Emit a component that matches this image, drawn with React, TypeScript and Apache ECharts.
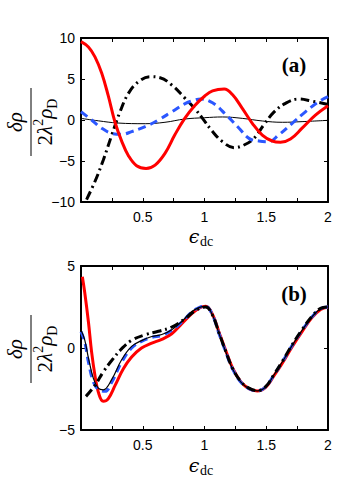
import React, { useEffect, useRef } from "react";
import * as echarts from "echarts";

// ---------- Panel (a) data ----------
const aRedX = [0, 0.06, 0.113, 0.168, 0.22, 0.276, 0.33, 0.384, 0.45, 0.527, 0.6, 0.68, 0.76, 0.84, 0.92, 1.0, 1.065, 1.16, 1.226, 1.306, 1.387, 1.468, 1.548, 1.615, 1.696, 1.79, 1.898, 2.0];
const aRedY = [9.55, 8.9, 7.7, 5.7, 3.0, -0.3, -2.6, -4.35, -5.57, -5.9, -5.5, -4.07, -1.8, 0.2, 1.75, 2.9, 3.55, 3.78, 3.1, 1.42, -0.4, -1.83, -2.56, -2.72, -2.32, -1.0, 0.6, 1.75];

const aDashDotX = [0.045, 0.113, 0.18, 0.25, 0.316, 0.384, 0.465, 0.56, 0.64, 0.735, 0.843, 0.924, 0.984, 1.065, 1.145, 1.24, 1.32, 1.4, 1.48, 1.56, 1.656, 1.763, 1.87, 2.0];
const aDashDotY = [-9.7, -7.5, -4.9, -1.8, 1.0, 3.25, 4.67, 5.28, 5.16, 4.27, 2.64, 1.34, 0.2, -1.4, -2.64, -3.37, -3.05, -2.24, -0.6, 0.93, 2.03, 2.56, 2.3, 1.9];

const aBlueX = [0, 0.086, 0.168, 0.25, 0.33, 0.41, 0.52, 0.627, 0.735, 0.843, 0.924, 0.97, 1.065, 1.17, 1.28, 1.36, 1.44, 1.52, 1.6, 1.71, 1.817, 1.925, 2.0];
const aBlueY = [1.0, 0.0, -1.0, -1.63, -1.75, -1.42, -0.8, 0.0, 1.0, 2.0, 2.44, 2.55, 2.1, 0.7, -1.0, -2.24, -2.56, -2.64, -1.83, -0.4, 1.0, 2.24, 2.85];

const aThinX = [0, 0.14, 0.3, 0.52, 0.68, 0.84, 1.0, 1.145, 1.306, 1.468, 1.63, 1.79, 2.0];
const aThinY = [0.2, -0.1, -0.37, -0.45, -0.28, 0.12, 0.28, 0.37, 0.2, -0.12, -0.28, -0.2, -0.04];

// ---------- Panel (b) data ----------
const bRedX = [0.011, 0.03, 0.06, 0.086, 0.113, 0.14, 0.18, 0.22, 0.276, 0.343, 0.41, 0.49, 0.573, 0.654, 0.735, 0.816, 0.897, 0.96, 1.01, 1.065, 1.118, 1.172, 1.226, 1.293, 1.36, 1.427, 1.495, 1.56, 1.63, 1.71, 1.79, 1.87, 1.94, 2.0];
const bRedY = [4.35, 3.4, 1.6, -0.25, -1.67, -2.68, -3.25, -3.1, -2.28, -1.26, -0.55, 0.0, 0.3, 0.53, 0.87, 1.48, 2.09, 2.45, 2.55, 2.05, 0.95, -0.15, -1.2, -2.05, -2.48, -2.62, -2.4, -1.72, -0.92, 0.08, 1.0, 1.85, 2.35, 2.5];

const bBlueX = [0.0, 0.03, 0.06, 0.1, 0.14, 0.195, 0.25, 0.33, 0.41, 0.49, 0.573, 0.654, 0.735, 0.816, 0.897, 0.96, 1.01, 1.065, 1.118, 1.172, 1.226, 1.293, 1.36, 1.427, 1.495, 1.56, 1.63, 1.71, 1.79, 1.87, 1.94, 2.0];
const bBlueY = [1.0, 0.37, -0.85, -2.07, -2.52, -2.64, -2.07, -0.85, 0.0, 0.4, 0.65, 0.77, 1.08, 1.58, 2.2, 2.48, 2.54, 2.0, 0.87, -0.24, -1.26, -2.07, -2.48, -2.62, -2.38, -1.67, -0.85, 0.16, 1.08, 1.89, 2.4, 2.5];

const bThinX = [0.0, 0.03, 0.06, 0.1, 0.14, 0.18, 0.25, 0.33, 0.41, 0.49, 0.573, 0.654, 0.735, 0.816, 0.897, 0.96, 1.01, 1.065, 1.118, 1.172, 1.226, 1.293, 1.36, 1.427, 1.495, 1.56, 1.63, 1.71, 1.79, 1.87, 1.94, 2.0];
const bThinY = [1.1, 0.5, -0.6, -1.85, -2.45, -2.55, -1.9, -0.7, 0.1, 0.45, 0.7, 0.82, 1.12, 1.62, 2.22, 2.48, 2.54, 2.0, 0.87, -0.24, -1.26, -2.07, -2.48, -2.62, -2.38, -1.67, -0.85, 0.16, 1.08, 1.89, 2.4, 2.5];

const bDashDotX = [0.04, 0.113, 0.18, 0.25, 0.33, 0.41, 0.52, 0.627, 0.735, 0.843, 0.93, 1.01, 1.065, 1.118, 1.172, 1.226, 1.293, 1.36, 1.427, 1.495, 1.56, 1.63, 1.71, 1.79, 1.87, 1.94, 2.0];
const bDashDotY = [-2.95, -2.28, -1.46, -0.75, -0.04, 0.47, 0.81, 1.02, 1.28, 1.79, 2.3, 2.5, 2.0, 0.9, -0.2, -1.22, -2.03, -2.45, -2.6, -2.36, -1.65, -0.82, 0.2, 1.12, 1.93, 2.42, 2.5];

// ---------- Axis ticks ----------
const xTickLabels = ["0.5", "1", "1.5", "2"];
const aYTicks = [-10, -5, 0, 5, 10];
const bYTicks = [-5, 0, 5];

const zip = (xs: number[], ys: number[]) => xs.map((x, i) => [x, ys[i]]);

const RED = "#ff0000";
const BLUE = "#2b57ff";
const BLACK = "#000000";

export default function App() {
  const ref = useRef<HTMLDivElement>(null);

  useEffect(() => {
    if (!ref.current) return;
    const chart = echarts.init(ref.current, undefined, { renderer: "svg" });

    const gridTop = [38, 266];
    const gridLeft = 81;
    const gridW = 247;
    const gridH = 164;

    const xLabelFmt = (v: number) => {
      const s = String(Math.round(v * 100) / 100);
      return xTickLabels.includes(s) ? s : "";
    };

    const mkX = (gi: number, pos: "bottom" | "top") => ({
      type: "value",
      gridIndex: gi,
      position: pos,
      min: 0,
      max: 2,
      interval: 0.25,
      axisLine: { show: true, onZero: false, lineStyle: { color: BLACK, width: 2 } },
      axisTick: { show: true, inside: true, length: 4, lineStyle: { color: BLACK, width: 1 } },
      axisLabel: pos === "bottom"
        ? { show: true, formatter: xLabelFmt, color: BLACK, fontFamily: "Liberation Sans", fontSize: 14, margin: 8, showMinLabel: true, showMaxLabel: true }
        : { show: false },
      splitLine: { show: false },
    });

    const mkY = (gi: number, pos: "left" | "right", ticks: number[]) => ({
      type: "value",
      gridIndex: gi,
      position: pos,
      min: ticks[0],
      max: ticks[ticks.length - 1],
      interval: 5,
      axisLine: { show: true, onZero: false, lineStyle: { color: BLACK, width: 2 } },
      axisTick: { show: true, inside: true, length: 4, lineStyle: { color: BLACK, width: 1 } },
      axisLabel: pos === "left"
        ? { show: true, color: BLACK, fontFamily: "Liberation Sans", fontSize: 14, margin: 6, formatter: (v: number) => (ticks.includes(v) ? String(v).replace("-", "\u2212") : "") }
        : { show: false },
      splitLine: { show: false },
    });

    const line = (data: number[][], xi: number, yi: number, color: string, width: number, type: any, z: number) => ({
      type: "line",
      xAxisIndex: xi,
      yAxisIndex: yi,
      data,
      smooth: 0.4,
      symbol: "none",
      clip: true,
      z,
      lineStyle: { color, width, type, cap: "butt" },
    });

    const dashDot = [9, 4, 2, 4];
    const dashed = [8, 5];

    const yLabel = (cy: number) => [
      {
        type: "text",
        x: 15,
        y: cy,
        rotation: Math.PI / 2,
        style: {
          text: "δρ",
          font: "italic 21px 'Liberation Serif'",
          fill: BLACK,
          align: "center",
          verticalAlign: "middle",
        },
      },
      {
        type: "line",
        shape: { x1: 31, y1: cy - 34, x2: 31, y2: cy + 34 },
        style: { stroke: BLACK, lineWidth: 1 },
      },
      {
        type: "text",
        x: 45,
        y: cy,
        rotation: Math.PI / 2,
        style: {
          text: "{n|2}{i|λ}{sup|2}{i|ρ}{sub|D}",
          align: "center",
          verticalAlign: "middle",
          fill: BLACK,
          rich: {
            n: { fontFamily: "Liberation Serif", fontSize: 21, lineHeight: 28, verticalAlign: "middle" },
            i: { fontFamily: "Liberation Serif", fontStyle: "italic", fontSize: 21, lineHeight: 28, verticalAlign: "middle" },
            sup: { fontFamily: "Liberation Serif", fontSize: 14, lineHeight: 14, verticalAlign: "top" },
            sub: { fontFamily: "Liberation Serif", fontSize: 14, lineHeight: 14, verticalAlign: "bottom" },
          },
        },
      },
    ];

    const xLabel = (cy: number) => [
      {
        type: "text",
        x: 194,
        y: cy,
        style: { text: "ϵ", font: "italic 19px 'DejaVu Serif'", fill: BLACK, align: "center", verticalAlign: "middle" },
      },
      {
        type: "text",
        x: 200,
        y: cy + 5,
        style: { text: "dc", font: "14px 'Liberation Serif'", fill: BLACK, align: "left", verticalAlign: "middle" },
      },
    ];

    const panelLabel = (text: string, cy: number) => ({
      type: "text",
      x: 294,
      y: cy,
      style: { text, font: "bold 21px 'Liberation Serif'", fill: BLACK, align: "center", verticalAlign: "middle" },
    });

    chart.setOption({
      animation: false,
      backgroundColor: "#ffffff",
      grid: gridTop.map((t) => ({ left: gridLeft, top: t, width: gridW, height: gridH, containLabel: false })),
      xAxis: [mkX(0, "bottom"), mkX(0, "top"), mkX(1, "bottom"), mkX(1, "top")],
      yAxis: [mkY(0, "left", aYTicks), mkY(0, "right", aYTicks), mkY(1, "left", bYTicks), mkY(1, "right", bYTicks)],
      series: [
        line(zip(aThinX, aThinY), 0, 0, BLACK, 1, "solid", 2),
        line(zip(aDashDotX, aDashDotY), 0, 0, BLACK, 3, dashDot, 3),
        line(zip(aBlueX, aBlueY), 0, 0, BLUE, 3, dashed, 4),
        line(zip(aRedX, aRedY), 0, 0, RED, 3, "solid", 5),
        line(zip(bRedX, bRedY), 2, 2, RED, 3, "solid", 2),
        line(zip(bBlueX, bBlueY), 2, 2, BLUE, 3, dashed, 3),
        line(zip(bThinX, bThinY), 2, 2, BLACK, 1.2, "solid", 4),
        line(zip(bDashDotX, bDashDotY), 2, 2, BLACK, 3, dashDot, 5),
      ],
      graphic: [
        ...yLabel(122),
        ...yLabel(349),
        ...xLabel(236),
        ...xLabel(465),
        panelLabel("(a)", 65),
        panelLabel("(b)", 294),
      ],
    });

    return () => chart.dispose();
  }, []);

  return <div ref={ref} style={{ position: "absolute", left: 0, top: 0, width: 353, height: 485 }} />;
}
